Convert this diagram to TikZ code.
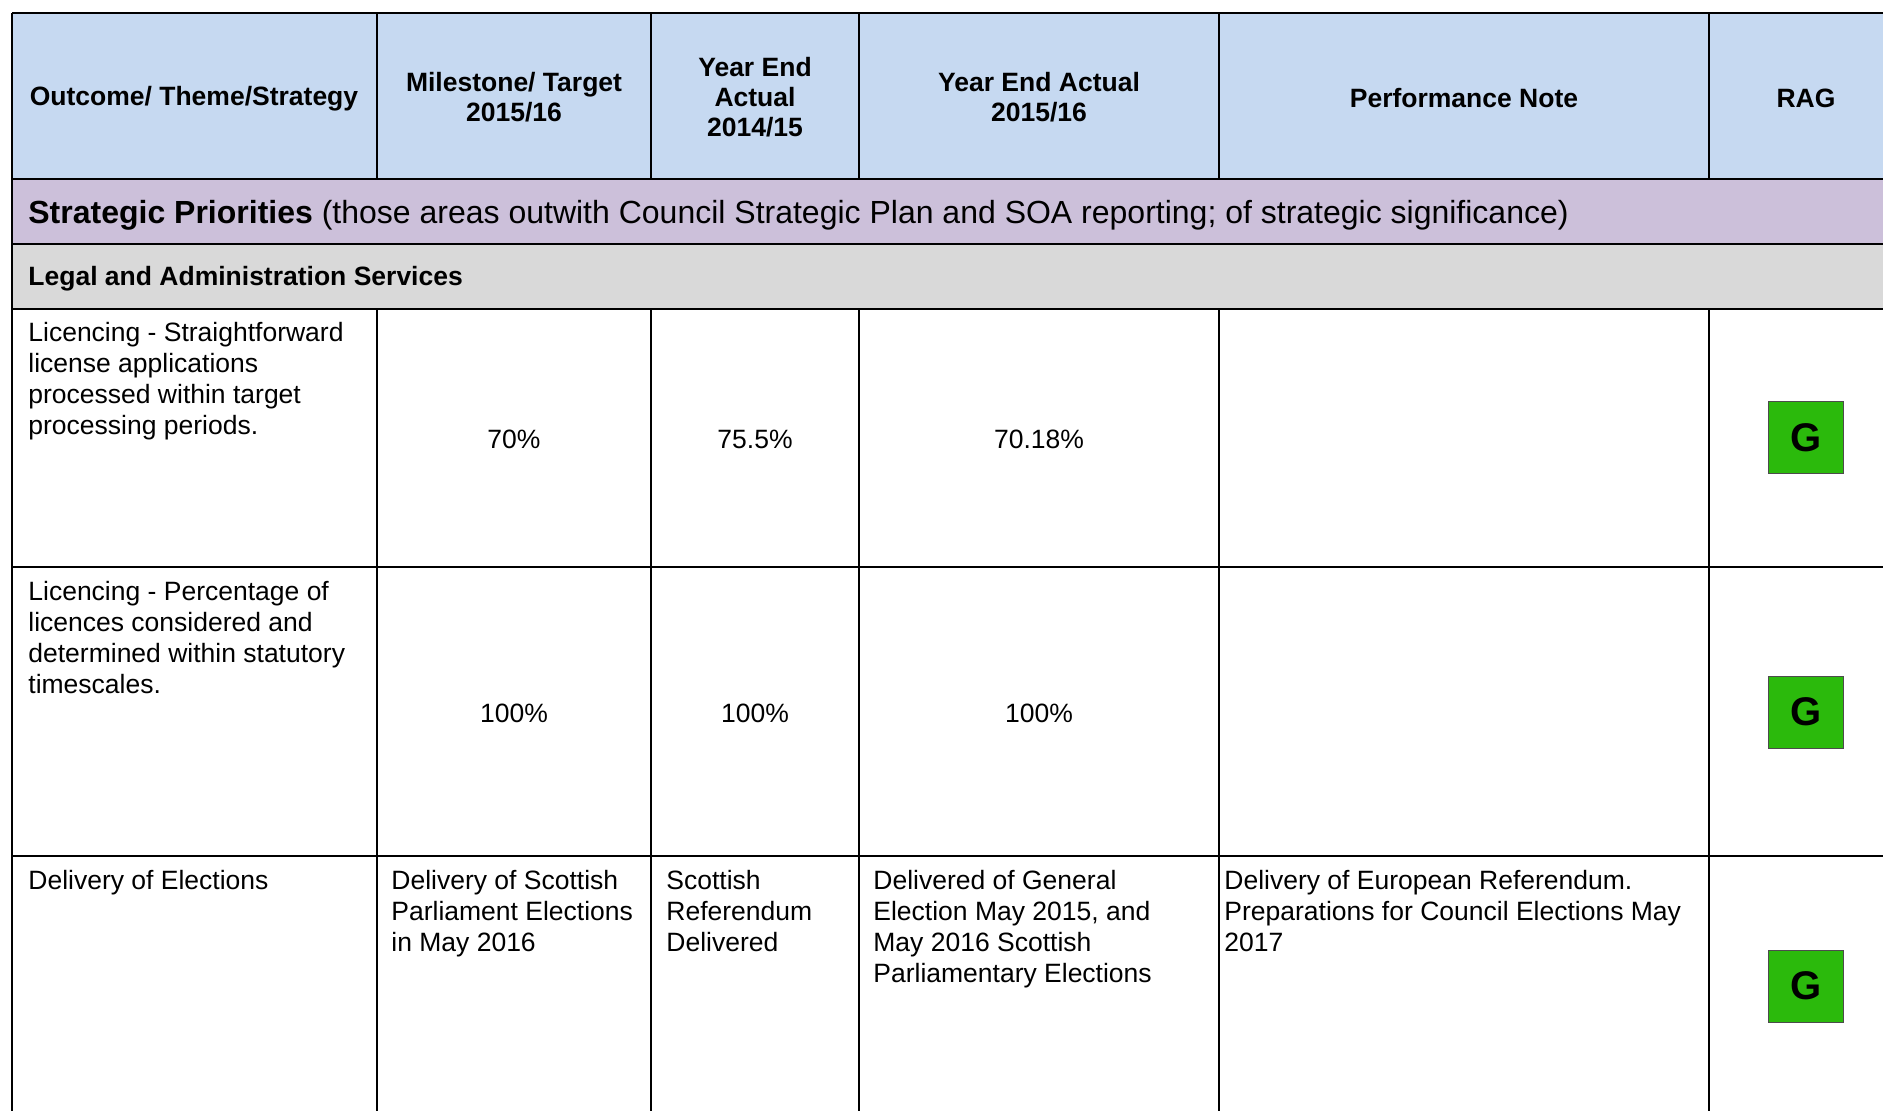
\documentclass[tikz,border=0pt]{standalone}
\usepackage{fontspec}
\setmainfont{Liberation Sans}
\usepackage{tikz}
\definecolor{hdrblue}{RGB}{198,217,241}
\definecolor{prioritypurple}{RGB}{204,192,218}
\definecolor{sectiongrey}{RGB}{217,217,217}
\definecolor{raggreen}{RGB}{43,186,12}

\begin{document}
\begin{tikzpicture}[x=0.5pt,y=-0.5pt,
    grid/.style={line width=1.4pt},
    hdr/.style={font=\fontsize{13.25}{15}\selectfont\bfseries, align=center, inner sep=0pt},
    body/.style={font=\fontsize{13.25}{15.5}\selectfont, align=left, inner sep=0pt, anchor=north west},
    val/.style={font=\fontsize{13.25}{15.5}\selectfont, inner sep=0pt},
    ragbox/.style={draw=black!70, line width=0.5pt, fill=raggreen, minimum width=37.5pt,
        minimum height=36pt, inner sep=0pt, font=\fontsize{20}{20}\selectfont\bfseries}]
        \clip (0,0) rectangle (1883,1111);

        % The coloured bands
        \fill[hdrblue] (12,13) rectangle (1900,179);
        \fill[prioritypurple] (12,179) rectangle (1900,244);
        \fill[sectiongrey] (12,244) rectangle (1900,309);

        % Horizontal rules
        \draw[grid] (12,13) -- (1900,13);
        \draw[grid] (12,179) -- (1900,179);
        \draw[grid] (12,244) -- (1900,244);
        \draw[grid] (12,309) -- (1900,309);
        \draw[grid] (12,567) -- (1900,567);
        \draw[grid] (12,856) -- (1900,856);

        % Vertical rules
        \draw[grid] (12,13) -- (12,1120);
        \draw[grid] (377,13) -- (377,179);
        \draw[grid] (651,13) -- (651,179);
        \draw[grid] (859,13) -- (859,179);
        \draw[grid] (1219,13) -- (1219,179);
        \draw[grid] (1709,13) -- (1709,179);
        \draw[grid] (377,309) -- (377,1120);
        \draw[grid] (651,309) -- (651,1120);
        \draw[grid] (859,309) -- (859,1120);
        \draw[grid] (1219,309) -- (1219,1120);
        \draw[grid] (1709,309) -- (1709,1120);

        % Header words
        \draw (194,99) node[hdr] (hOutcome) {Outcome/ Theme/Strategy};
        \draw (514,97) node[hdr] (hTarget) {Milestone/ Target\\2015/16};
        \draw (755,97) node[hdr] (hPrev) {Year End\\Actual\\2014/15};
        \draw (1039,97) node[hdr] (hActual) {Year End Actual\\2015/16};
        \draw (1464,98) node[hdr] (hNote) {Performance Note};
        \draw (1806,98) node[hdr] (hRag) {RAG};

        % Band words
        \draw (28,215) node[anchor=west, inner sep=0pt, font=\fontsize{16}{19}\selectfont] (priorities)
            {\textbf{Strategic Priorities} (those areas outwith Council Strategic Plan and SOA reporting; of strategic significance)};
        \draw (28,279) node[anchor=west, inner sep=0pt, font=\fontsize{13.25}{15.5}\selectfont\bfseries] (legal)
            {Legal and Administration Services};

        % First row
        \draw (28,319) node[body] (licA) {\strut Licencing - Straightforward\\license applications\\processed within target\\processing periods.};
        \draw (514,439) node[val] (licAtarget) {70\%};
        \draw (755,439) node[val] (licAprev) {75.5\%};
        \draw (1039,439) node[val] (licAactual) {70.18\%};
        \draw (1806,438) node[ragbox] (licArag) {G};

        % Second row
        \draw (28,578) node[body] (licB) {\strut Licencing - Percentage of\\licences considered and\\determined within statutory\\timescales.};
        \draw (514,713) node[val] (licBtarget) {100\%};
        \draw (755,713) node[val] (licBprev) {100\%};
        \draw (1039,713) node[val] (licBactual) {100\%};
        \draw (1806,712) node[ragbox] (licBrag) {G};

        % Third row
        \draw (28,867) node[body] (elect) {\strut Delivery of Elections};
        \draw (391,867) node[body] (electTarget) {\strut Delivery of Scottish\\Parliament Elections\\in May 2016};
        \draw (666,867) node[body] (electPrev) {\strut Scottish\\Referendum\\Delivered};
        \draw (873,867) node[body] (electActual) {\strut Delivered of General\\Election May 2015, and\\May 2016 Scottish\\Parliamentary Elections};
        \draw (1224,867) node[body] (electNote) {\strut Delivery of European Referendum.\\Preparations for Council Elections May\\2017};
        \draw (1806,986) node[ragbox] (electRag) {G};

    \end{tikzpicture}
\end{document}
